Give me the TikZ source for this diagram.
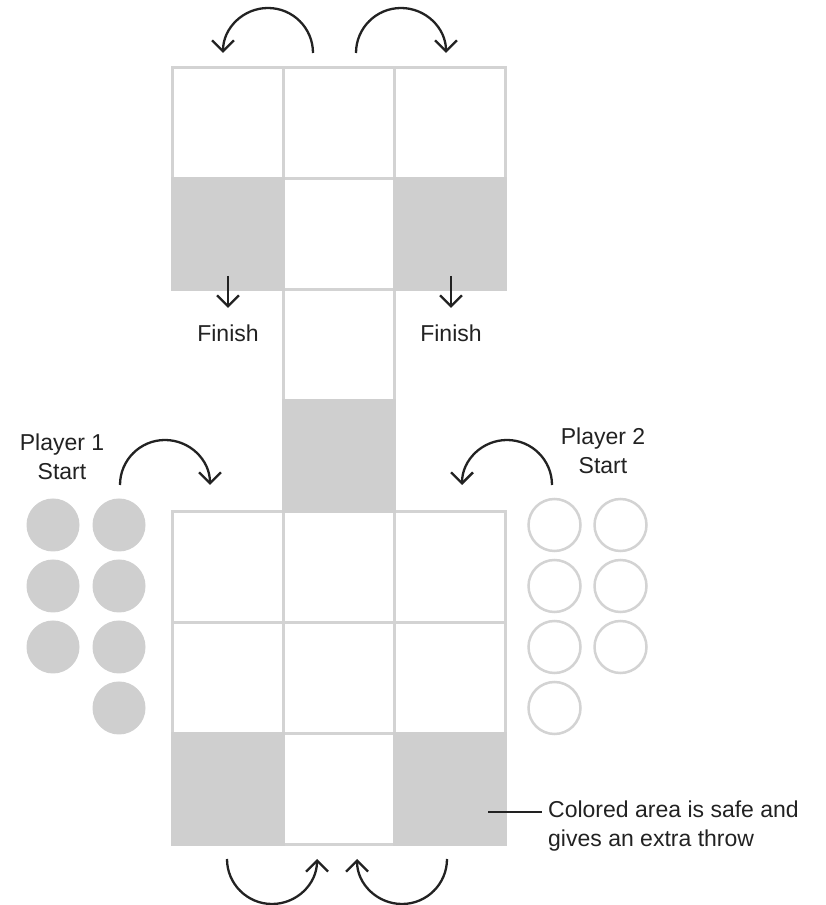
\documentclass[tikz,border=0pt]{standalone}
\usepackage{fontspec}
\setmainfont{Liberation Sans}
\usetikzlibrary{arrows.meta}
\definecolor{gridline}{HTML}{D3D3D3}
\definecolor{cellgray}{HTML}{CFCFCF}
\definecolor{ink}{HTML}{222222}
\tikzset{
  cell/.style={draw=gridline, line width=3pt, fill=white, minimum width=111pt, minimum height=111pt, inner sep=0pt, outer sep=0pt},
  safecell/.style={cell, fill=cellgray, draw=cellgray},
  pawnA/.style={circle, fill=cellgray, minimum size=53pt, inner sep=0pt},
  pawnB/.style={circle, draw=gridline, line width=2.5pt, fill=white, minimum size=52pt, inner sep=0pt},
  move/.style={draw=ink, line width=2.3pt, -{Straight Barb[length=11pt,width=22pt,line width=2.3pt]}},
  lbl/.style={font=\fontsize{23}{29}\selectfont, text=ink, align=center, inner sep=0pt},
}
\begin{document}
\begin{tikzpicture}[x=1pt,y=1pt]
\useasboundingbox[fill=white] (0,0) rectangle (825,905);
% top grid
\node[cell] (t11) at (227.5,781.5) {};
\node[cell] (t12) at (338.5,781.5) {};
\node[cell] (t13) at (449.5,781.5) {};
\node[cell] (t22) at (338.5,670.5) {};
% middle column
\node[cell] (m1) at (338.5,559.5) {};
% bottom grid
\node[cell] (b11) at (227.5,337.5) {};
\node[cell] (b12) at (338.5,337.5) {};
\node[cell] (b13) at (449.5,337.5) {};
\node[cell] (b21) at (227.5,226.5) {};
\node[cell] (b22) at (338.5,226.5) {};
\node[cell] (b23) at (449.5,226.5) {};
\node[cell] (b32) at (338.5,115.5) {};
% safe cells
\node[safecell] (t21) at (227.5,670.5) {};
\node[safecell] (t23) at (449.5,670.5) {};
\node[safecell] (m2) at (338.5,448.5) {};
\node[safecell] (b31) at (227.5,115.5) {};
\node[safecell] (b33) at (449.5,115.5) {};
% player 1 pawns
\node[pawnA] (p1a) at (53,380) {};
\node[pawnA] (p1b) at (119,380) {};
\node[pawnA] (p1c) at (53,319) {};
\node[pawnA] (p1d) at (119,319) {};
\node[pawnA] (p1e) at (53,258) {};
\node[pawnA] (p1f) at (119,258) {};
\node[pawnA] (p1g) at (119,197) {};
% player 2 pawns
\node[pawnB] (p2a) at (554.5,380) {};
\node[pawnB] (p2b) at (620.5,380) {};
\node[pawnB] (p2c) at (554.5,319) {};
\node[pawnB] (p2d) at (620.5,319) {};
\node[pawnB] (p2e) at (554.5,258) {};
\node[pawnB] (p2f) at (620.5,258) {};
\node[pawnB] (p2g) at (554.5,197) {};
% labels
\node[lbl] (pl1) at (62,448) {Player 1\\Start};
\node[lbl] (pl2) at (603,454) {Player 2\\Start};
\node[lbl] (fin1) at (228,572) {Finish};
\node[lbl] (fin2) at (451,572) {Finish};
\node[lbl, align=left, anchor=west] (note) at (548,79) {Colored area is safe and\\gives an extra throw};
% connector coordinates
\coordinate (f1s) at (228,629);
\coordinate (f1e) at (228,597);
\coordinate (f2s) at (451,629);
\coordinate (f2e) at (451,597);
\coordinate (ns) at (488,93);
\coordinate (ne) at (542,93);
% finish arrows
\draw[move] (f1s) -- (f1e);
\draw[move] (f2s) -- (f2e);
% curved move arrows
\draw[move] (313,852) arc[start angle=0, end angle=180, radius=45];
\draw[move] (356,852) arc[start angle=180, end angle=0, radius=45];
\draw[move] (120,420) arc[start angle=180, end angle=0, radius=45];
\draw[move] (552,420) arc[start angle=0, end angle=180, radius=45];
\draw[move] (227,46) arc[start angle=180, end angle=360, radius=45];
\draw[move] (447,46) arc[start angle=0, end angle=-180, radius=45];
% annotation leader
\draw[draw=ink, line width=2pt] (ns) -- (ne);
\end{tikzpicture}
\end{document}
